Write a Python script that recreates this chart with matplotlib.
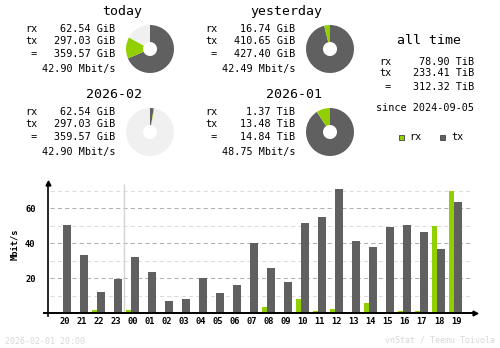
import matplotlib
matplotlib.use("Agg")
import matplotlib.pyplot as plt
import numpy as np

RX = "#92cf00"; TX = "#606060"; LIGHT = "#f0f0f0"; FAINT = "#d4d4d4"
W, H = 500, 348
plt.rcParams["font.family"] = "DejaVu Sans Mono"

# hourly traffic, Mbit/s
hours = ["20", "21", "22", "23", "00", "01", "02", "03", "04", "05", "06", "07",
         "08", "09", "10", "11", "12", "13", "14", "15", "16", "17", "18", "19"]
rx_hourly = [0.7, 0.6, 1.9, 0.0, 1.9, 0.6, 0.6, 0.0, 0.6, 0.0, 0.6, 0.6,
             3.6, 0.0, 8.2, 1.3, 2.5, 0.6, 5.9, 0.6, 1.3, 1.3, 49.9, 69.9]
tx_hourly = [50.5, 33.3, 12.2, 19.6, 32.2, 23.6, 7.0, 8.2, 20.2, 11.6, 16.2, 40.2,
             25.9, 17.9, 51.6, 55.0, 71.0, 41.3, 37.9, 49.3, 50.5, 46.5, 36.7, 63.6]

# summary blocks: title, rx, tx, total, rate, pie rx/tx (GiB), filled share of pie
titles = ["today", "yesterday", "2026-02", "2026-01"]
rx_text = ["62.54 GiB", "16.74 GiB", "62.54 GiB", "1.37 TiB"]
tx_text = ["297.03 GiB", "410.65 GiB", "297.03 GiB", "13.48 TiB"]
tot_text = ["359.57 GiB", "427.40 GiB", "359.57 GiB", "14.84 TiB"]
rate_text = ["42.90 Mbit/s", "42.49 Mbit/s", "42.90 Mbit/s", "48.75 Mbit/s"]
pie_rx = [62.54, 16.74, 62.54, 1.37]
pie_tx = [297.03, 410.65, 297.03, 13.48]
pie_fill = [0.83, 1.0, 0.03, 1.0]

alltime = ["78.90 TiB", "233.41 TiB", "312.32 TiB"]
since = "since 2024-09-05"

fig = plt.figure(figsize=(W / 100, H / 100), dpi=100)


def put(x, y, s, **kw):
    fig.text(x / W, 1 - y / H, s, va="center", **kw)


# summary text + pies, laid out in a 2x2 grid
for i, t in enumerate(titles):
    dx = 180 * (i % 2); dy = 83 * (i // 2)
    put(142 + dx, 11 + dy, t, ha="right", fontsize=9.5)
    for lab, val, yy in [("rx", rx_text[i], 29), ("tx", tx_text[i], 41), (" =", tot_text[i], 54)]:
        put(25 + dx, yy + dy, lab, ha="left", fontsize=7.3)
        put(115 + dx, yy + dy, val, ha="right", fontsize=7.3)
    put(115 + dx, 69 + dy, rate_text[i], ha="right", fontsize=7.3)

    cx, cy, r = 150 + dx, 49 + dy, 24
    pa = fig.add_axes([(cx - r) / W, 1 - (cy + r) / H, 2 * r / W, 2 * r / H])
    tot = pie_rx[i] + pie_tx[i]
    f = pie_fill[i]
    vals = [pie_tx[i] / tot * f, pie_rx[i] / tot * f, 1 - f]
    pa.pie(vals, colors=[TX, RX, LIGHT], startangle=90, counterclock=False,
           radius=1, wedgeprops=dict(width=17 / 24, linewidth=0))
    pa.set_xlim(-1, 1); pa.set_ylim(-1, 1); pa.axis("off")

# all time block
put(429, 40, "all time", ha="center", fontsize=9.5)
for lab, val, yy in [("rx", alltime[0], 62), ("tx", alltime[1], 73), (" =", alltime[2], 87)]:
    put(379, yy, lab, ha="left", fontsize=7.3)
    put(474, yy, val, ha="right", fontsize=7.3)
put(474, 108, since, ha="right", fontsize=7.3)
fig.patches.append(plt.Rectangle((399 / W, 1 - 140 / H), 5 / W, 5 / H, transform=fig.transFigure,
                                 facecolor=RX, edgecolor="#404040", lw=0.6))
fig.patches.append(plt.Rectangle((440 / W, 1 - 140 / H), 5 / W, 5 / H, transform=fig.transFigure,
                                 facecolor=TX, edgecolor="#404040", lw=0.6))
put(409, 137, "rx", ha="left", fontsize=7.3)
put(451, 137, "tx", ha="left", fontsize=7.3)

# hourly bar chart
L, R, T, B = 48, 477, 182, 313.3
ax = fig.add_axes([L / W, 1 - B / H, (R - L) / W, (B - T) / H])
x = np.arange(len(hours))
ax.set_xlim(-0.963, 24.23); ax.set_ylim(0, 75)
for v in [10, 30, 50, 70]:
    ax.hlines(v, -0.85, 24.0, color="#dcdcdc", lw=0.75, linestyles=(0, (4, 3)), zorder=0)
for v in [20, 40, 60]:
    ax.hlines(v, -0.85, 24.0, color="#b0b0b0", lw=0.75, linestyles=(0, (4, 3)), zorder=0)
ax.vlines(3.5, 0, 74, color=FAINT, lw=1, zorder=0)
ax.bar(x - 0.245, rx_hourly, width=0.294, color=RX, linewidth=0, zorder=2)
ax.bar(x + 0.137, tx_hourly, width=0.47, color=TX, linewidth=0, zorder=2)
for s in ax.spines.values():
    s.set_visible(False)
ax.plot([-0.963, -0.963], [-1.5, 74.5], color="black", lw=1.2, clip_on=False, zorder=3)
ax.plot([-1.2, 24.1], [0, 0], color="black", lw=1.4, clip_on=False, zorder=3)
ax.plot([-0.963], [74.5], marker="^", ms=3.5, color="black", clip_on=False, zorder=3)
ax.plot([24.1], [0], marker=">", ms=3.5, color="black", clip_on=False, zorder=3)
ax.set_xticks(x, hours)
ax.set_yticks([20, 40, 60], ["20", "40", "60"])
ax.tick_params(length=0, labelsize=6.3)
ax.tick_params(axis="x", pad=3)
ax.tick_params(axis="y", pad=9)
for lbl in ax.get_xticklabels() + ax.get_yticklabels():
    lbl.set_fontweight("bold")
put(15, 244, "Mbit/s", ha="center", rotation=90, fontsize=6.3, fontweight="bold")

# footer
put(5, 341, "2026-02-01 20:00", ha="left", fontsize=6, color="#d8d8d8")
put(495, 340, "vnStat / Teemu Toivola", ha="right", fontsize=6, color="#d8d8d8")

fig.savefig("out.png", dpi=100)
